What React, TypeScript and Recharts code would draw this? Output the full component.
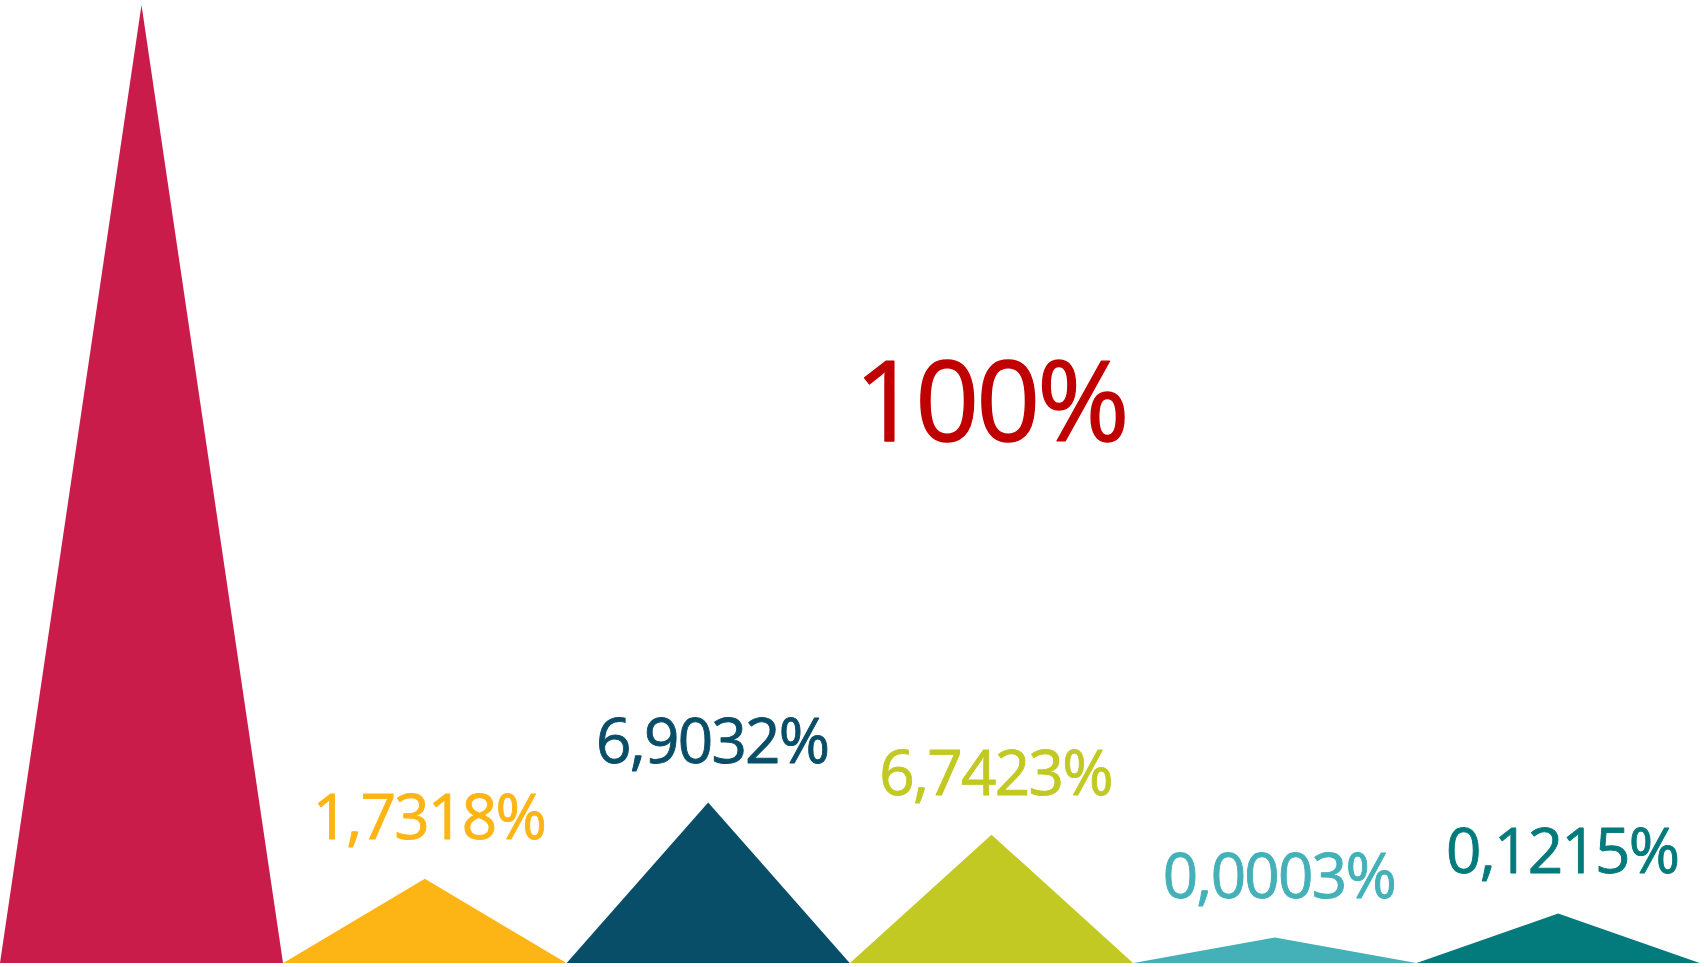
import React from 'react';
import { BarChart, Bar, XAxis, YAxis, Cell, LabelList } from 'recharts';

// bar heights (tallest = 100)
const categories = ['A', 'B', 'C', 'D', 'E', 'F'];
const heights = [100, 8.8, 16.75, 13.4, 2.66, 5.17];
const labels = ['100%', '1,7318%', '6,9032%', '6,7423%', '0,0003%', '0,1215%'];
const barColors = ['#CA1C4B', '#FDB515', '#094E68', '#C2C922', '#44B0B8', '#037A7C'];
const labelColors = ['#C00000', '#FDB515', '#094E68', '#C2C922', '#44B0B8', '#037A7C'];

const data = categories.map((name, i) => ({ name, height: heights[i], label: labels[i] }));

const Triangle = (props: any) => {
  const { x, y, width, height, fill } = props;
  if (!height) return null;
  const d = `M${x},${y + height} L${x + width / 2},${y} L${x + width},${y + height} Z`;
  return <path d={d} fill={fill} />;
};

const PeakLabel = (props: any) => {
  const { x, y, width, height, value, index } = props;
  const i = index ?? labels.indexOf(value);
  const common = {
    textAnchor: 'middle' as const,
    fontFamily: "'Open Sans', sans-serif",
    letterSpacing: '-0.028em',
    strokeLinejoin: 'round' as const,
  };
  if (i === 0) {
    // the big label sits out in the middle of the chart
    return (
      <text x={x + width * 3.5} y={y + height * 0.455} fill={labelColors[0]}
        stroke={labelColors[0]} strokeWidth={1.4} fontSize={112} {...common}>
        {value}
      </text>
    );
  }
  return (
    <text x={x + width / 2 + 4} y={y - 40} fill={labelColors[i]}
      stroke={labelColors[i]} strokeWidth={0.9} fontSize={62} {...common}>
      {value}
    </text>
  );
};

export default function App() {
  return (
    <div style={{ position: 'absolute', left: 0, top: 0, background: '#fff' }}>
      <BarChart width={1704} height={967} data={data}
        margin={{ top: 5, right: 4, left: 0, bottom: 4 }}
        barCategoryGap={0} barGap={0}>
        <XAxis dataKey="name" hide />
        <YAxis domain={[0, 100]} hide />
        <Bar dataKey="height" shape={<Triangle />} isAnimationActive={false}>
          {data.map((_, i) => (
            <Cell key={i} fill={barColors[i]} />
          ))}
          <LabelList dataKey="label" content={<PeakLabel />} />
        </Bar>
      </BarChart>
    </div>
  );
}
